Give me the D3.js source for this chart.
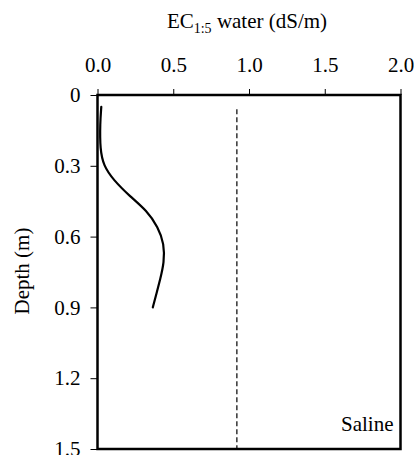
<!DOCTYPE html>
<meta charset="utf-8">
<script src="https://d3js.org/d3.v7.min.js"></script>
<style>
  body { margin: 0; background: #fff; }
  svg text { font-family: "Liberation Serif", "DejaVu Serif", serif; fill: #000; }
</style>
<div id="chart"></div>
<script>
    // profile: depth (m) and EC1:5 (dS/m)
    var depths = [0.05, 0.12, 0.23, 0.30, 0.36, 0.43, 0.49, 0.56, 0.63, 0.71, 0.78, 0.84, 0.90];
    var ecValues = [0.025, 0.017, 0.017, 0.04, 0.105, 0.215, 0.326, 0.40, 0.44, 0.44, 0.414, 0.39, 0.365];

    // saline threshold (dashed line)
    var thresholdEC = [0.92, 0.92];
    var thresholdDepth = [0.06, 1.5];

    var xTicks = [0, 0.5, 1, 1.5, 2];
    var xTickLabels = ["0.0", "0.5", "1.0", "1.5", "2.0"];
    var yTicks = [0, 0.3, 0.6, 0.9, 1.2, 1.5];
    var yTickLabels = ["0", "0.3", "0.6", "0.9", "1.2", "1.5"];
    var panelLabel = "Saline";

    var serif = '"Liberation Serif", "DejaVu Serif", serif';

    var margin = {top: 95, right: 13.5, bottom: 6, left: 97.5},
        width = 414 - margin.left - margin.right,
        height = 455 - margin.top - margin.bottom;

    var svg = d3.select("#chart")
      .append("svg")
        .attr("width", 414)
        .attr("height", 455);
    var g = svg.append("g")
        .attr("transform", "translate(" + margin.left + "," + margin.top + ")");

    var x = d3.scaleLinear().domain([0, 2]).range([0, width]);
    var y = d3.scaleLinear().domain([0, 1.5]).range([0, height]);

    // top X axis
    var xAxis = g.append("g")
        .call(d3.axisTop(x)
          .tickValues(xTicks)
          .tickFormat(function(d, i) { return xTickLabels[i]; })
          .tickSize(6)
          .tickSizeOuter(0)
          .tickPadding(17));
    xAxis.select(".domain").remove();

    // left Y axis
    var yAxis = g.append("g")
        .call(d3.axisLeft(y)
          .tickValues(yTicks)
          .tickFormat(function(d, i) { return yTickLabels[i]; })
          .tickSize(7)
          .tickSizeOuter(0)
          .tickPadding(10));
    yAxis.select(".domain").remove();

    g.selectAll("g").attr("font-family", serif).attr("font-size", 21);
    g.selectAll(".tick line").attr("stroke", "#000").attr("stroke-width", 1);
    g.selectAll(".tick text").attr("fill", "#000");

    // frame
    g.append("rect")
      .attr("x", 0).attr("y", 0)
      .attr("width", width).attr("height", height)
      .attr("fill", "none")
      .attr("stroke", "#000")
      .attr("stroke-width", 2.5);

    // threshold line
    g.append("path")
      .datum(d3.zip(thresholdEC, thresholdDepth))
      .attr("fill", "none")
      .attr("stroke", "#000")
      .attr("stroke-width", 1.2)
      .attr("stroke-dasharray", "5,3")
      .attr("d", d3.line()
        .x(function(d) { return x(d[0]); })
        .y(function(d) { return y(d[1]); }));

    // EC profile
    g.append("path")
      .datum(d3.zip(ecValues, depths))
      .attr("fill", "none")
      .attr("stroke", "#000")
      .attr("stroke-width", 2.2)
      .attr("stroke-linecap", "round")
      .attr("d", d3.line()
        .curve(d3.curveBasis)
        .x(function(d) { return x(d[0]); })
        .y(function(d) { return y(d[1]); }));

    // panel label
    g.append("text")
      .attr("x", width - 7)
      .attr("y", height - 18)
      .attr("text-anchor", "end")
      .attr("font-size", 21)
      .text(panelLabel);

    // axis titles
    var title = svg.append("text")
      .attr("x", margin.left + width / 2 - 2)
      .attr("y", 28)
      .attr("text-anchor", "middle")
      .attr("font-size", 21);
    title.append("tspan").text("EC");
    title.append("tspan").attr("dy", 5).attr("font-size", 14).text("1:5");
    title.append("tspan").attr("dy", -5).text(" water (dS/m)");

    svg.append("text")
      .attr("transform", "translate(29,271) rotate(-90)")
      .attr("text-anchor", "middle")
      .attr("font-size", 21)
      .text("Depth (m)");
</script>
